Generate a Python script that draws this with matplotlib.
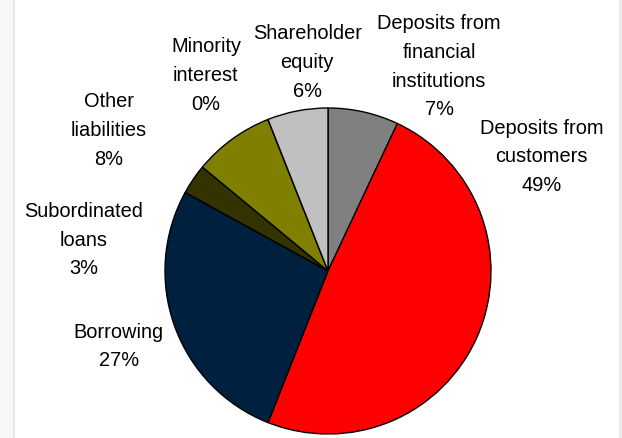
import matplotlib.pyplot as plt
from matplotlib.patches import Rectangle

plt.rcParams['font.family'] = ['Liberation Sans', 'DejaVu Sans']

# liabilities breakdown, clockwise from 12 o'clock
labels = ['Deposits from\nfinancial\ninstitutions', 'Deposits from\ncustomers', 'Borrowing',
          'Subordinated\nloans', 'Other\nliabilities', 'Minority\ninterest', 'Shareholder\nequity']
shares = [7, 49, 27, 3, 8, 0, 6]
colors = ['#808080', '#ff0000', '#002040', '#333300', '#808000', '#9999ff', '#c0c0c0']

# label centres (figure fraction, x / top of text block)
label_pos = [(0.706, 0.968), (0.871, 0.73), (0.191, 0.265), (0.135, 0.54),
             (0.175, 0.79), (0.331, 0.915), (0.494, 0.945)]

W, H = 622, 439
fig = plt.figure(figsize=(W / 100, H / 100), dpi=100)

# grey page strips either side of the chart box
fig.patches.append(Rectangle((0, 0), 13 / W, 1, transform=fig.transFigure,
                             facecolor='#f7f7f7', edgecolor='none'))
fig.patches.append(Rectangle((13 / W, 0), 2 / W, 1, transform=fig.transFigure,
                             facecolor='#e8e8e8', edgecolor='none'))
fig.patches.append(Rectangle((619 / W, 0), 3 / W, 1, transform=fig.transFigure,
                             facecolor='#ededed', edgecolor='none'))

cx, cy, r = 328, 272, 163
ax = fig.add_axes([(cx - r) / W, (H - cy - r) / H, 2 * r / W, 2 * r / H])
wedges, _ = ax.pie(shares, colors=colors, startangle=90, counterclock=False,
                   wedgeprops=dict(edgecolor='black', linewidth=1.0))
for w in wedges:
    w.set_clip_on(False)
ax.set_xlim(-1, 1)
ax.set_ylim(-1, 1)
ax.set_aspect('equal')
ax.axis('off')

for lab, val, (x, y) in zip(labels, shares, label_pos):
    fig.text(x, y, f'{lab}\n{val}%', ha='center', va='top', fontsize=14.4,
             linespacing=1.65, color='black')

fig.savefig('out.png', dpi=100)
